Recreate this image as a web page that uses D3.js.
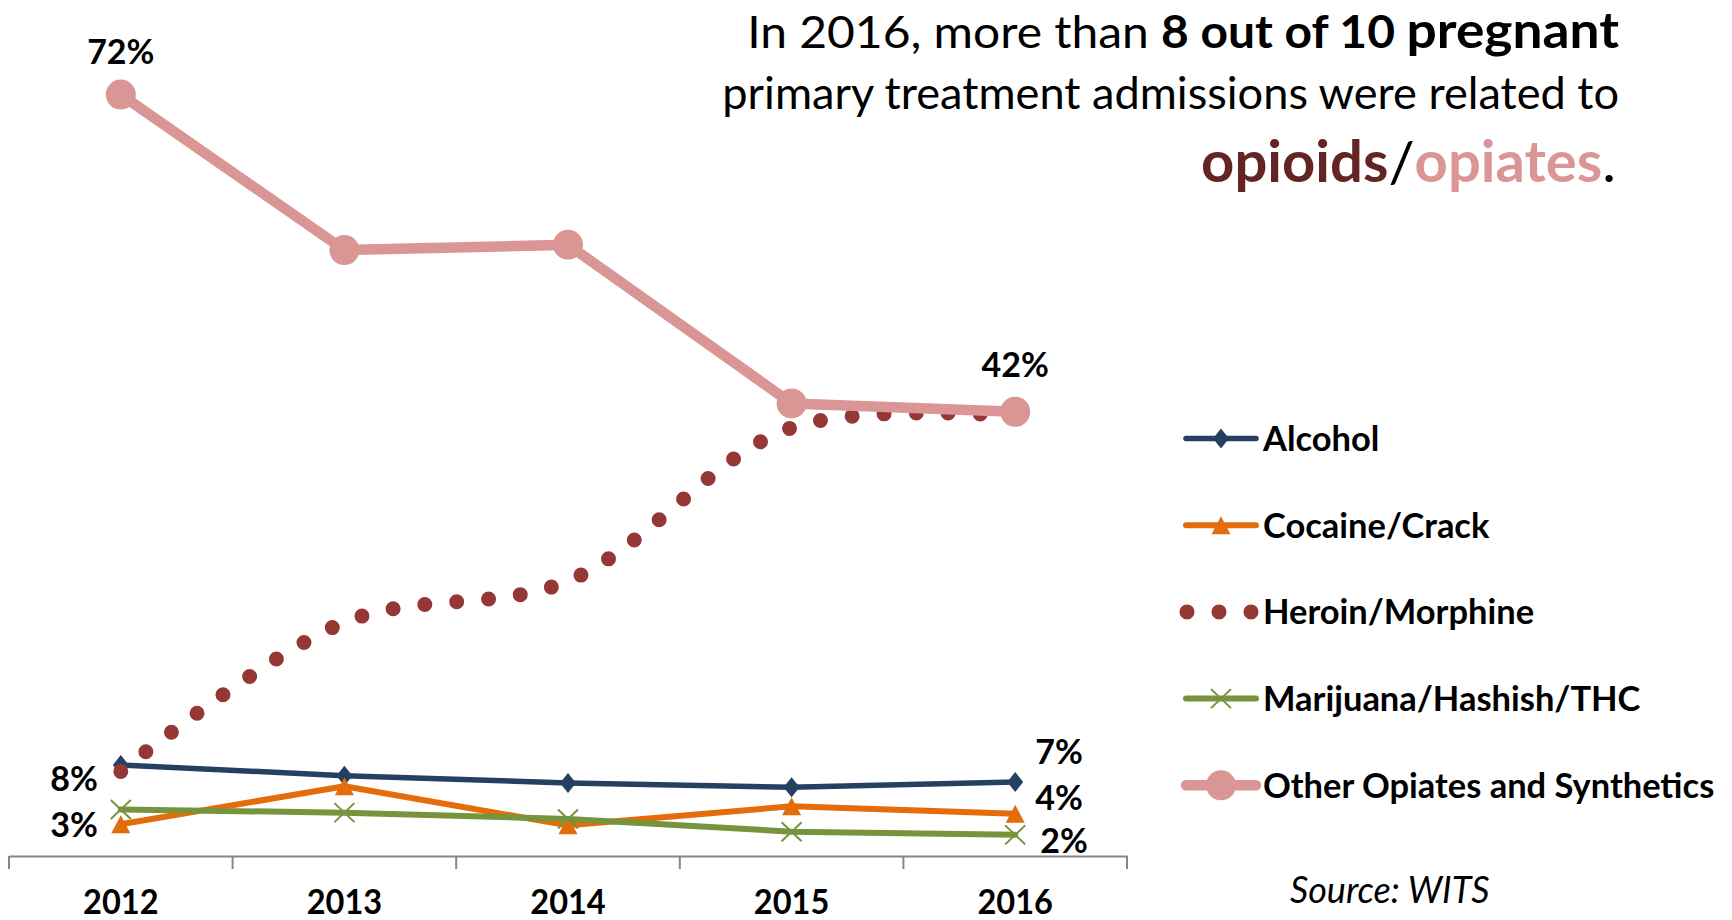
<!DOCTYPE html>
<html>
<head>
<meta charset="utf-8">
<script src="https://cdn.jsdelivr.net/npm/d3@7"></script>
<style>
  html, body { margin: 0; padding: 0; background: #fff; }
  svg { display: block; font-family: Lato, "Open Sans", sans-serif; }
</style>
</head>
<body>
<svg id="chart" width="1732" height="920"></svg>
<script>
// ---- data: share of pregnant primary treatment admissions (%) ----
const years = ["2012", "2013", "2014", "2015", "2016"];
const alcohol = [8.6, 7.6, 6.9, 6.5, 7];
const cocaine = [3, 6.6, 2.9, 4.7, 4];
const heroin = [8, 22.1, 26.0, 40.5, 41.6];
const marijuana = [4.4, 4.1, 3.5, 2.3, 2];
const otherOpiates = [72, 57.3, 57.8, 42.8, 42];

const seriesNames = ["Alcohol", "Cocaine/Crack", "Heroin/Morphine",
                     "Marijuana/Hashish/THC", "Other Opiates and Synthetics"];
const seriesValues = [alcohol, cocaine, heroin, marijuana, otherOpiates];

// styling per series
const styles = [
  { color: "#254061", width: 5.5, marker: "diamond" },
  { color: "#E46C0A", width: 6, marker: "triangle" },
  { color: "#953735", width: 15, marker: null, dotted: true, smooth: true },
  { color: "#77933C", width: 6, marker: "x" },
  { color: "#D99694", width: 10.5, marker: "circle" }
];

// value labels: which series / point, with offset from the point
const valueLabels = [
  { s: 4, i: 0, dx: 0,   dy: -31, anchor: "middle" },
  { s: 4, i: 4, dx: 0,   dy: -35, anchor: "middle" },
  { s: 2, i: 0, dx: -23, dy: 20,  anchor: "end" },
  { s: 1, i: 0, dx: -23, dy: 13,  anchor: "end" },
  { s: 0, i: 4, dx: 20,  dy: -18, anchor: "start" },
  { s: 1, i: 4, dx: 20,  dy: -4,  anchor: "start" },
  { s: 3, i: 4, dx: 25,  dy: 18,  anchor: "start" }
];

const svg = d3.select("#chart");

function squeeze(sel, sx, ax) {
  sel.attr("transform", `translate(${ax},0) scale(${sx},1) translate(${-ax},0)`);
}

// ---- scales ----
const x = d3.scaleBand().domain(years).range([9, 1127]).padding(0);
const cx = d => x(d) + x.bandwidth() / 2;
const y = d3.scaleLinear().domain([0, 80]).range([856, 10]);

// ---- x axis ----
const axis = svg.append("g").attr("transform", `translate(0,${y(0)})`)
  .call(d3.axisBottom(x).tickSize(0).tickSizeOuter(0));
axis.select(".domain").attr("stroke", "#868686").attr("stroke-width", 2);
axis.selectAll(".tick text")
  .attr("y", 58).attr("dy", 0)
  .attr("fill", "#000")
  .style("font-family", "Lato, sans-serif")
  .style("font-size", "35px").style("font-weight", "bold")
  .each(function () { squeeze(d3.select(this), 0.93, 0); });

// tick marks sit on the category boundaries
const bounds = years.map(d => x(d)).concat([x.range()[1]]);
svg.append("g").selectAll("line").data(bounds).join("line")
  .attr("x1", d => d).attr("x2", d => d)
  .attr("y1", y(0)).attr("y2", y(0) + 13)
  .attr("stroke", "#868686").attr("stroke-width", 2);

// ---- markers ----
function drawMarker(g, type, px, py, color) {
  if (type === "diamond") {
    g.append("path")
      .attr("d", `M${px},${py - 10}L${px + 8},${py}L${px},${py + 10}L${px - 8},${py}Z`)
      .attr("fill", color);
  } else if (type === "triangle") {
    g.append("path")
      .attr("d", `M${px},${py - 9}L${px + 9.5},${py + 9}L${px - 9.5},${py + 9}Z`)
      .attr("fill", color);
  } else if (type === "x") {
    g.append("path")
      .attr("d", `M${px - 10},${py - 9.5}L${px + 10},${py + 9.5}M${px + 10},${py - 9.5}L${px - 10},${py + 9.5}`)
      .attr("stroke", color).attr("stroke-width", 2).attr("fill", "none");
  } else if (type === "circle") {
    g.append("circle").attr("cx", px).attr("cy", py).attr("r", 15).attr("fill", color);
  }
}

// ---- series ----
seriesValues.forEach((vals, s) => {
  const st = styles[s];
  const g = svg.append("g").attr("class", "series");
  const line = d3.line()
    .x((d, i) => cx(years[i]))
    .y(d => y(d))
    .curve(st.smooth ? d3.curveCatmullRom.alpha(0.5) : d3.curveLinear);
  const p = g.append("path").datum(vals)
    .attr("d", line)
    .attr("fill", "none")
    .attr("stroke", st.color)
    .attr("stroke-width", st.width)
    .attr("stroke-linejoin", "round")
    .attr("stroke-linecap", "round");
  if (st.dotted) p.attr("stroke-dasharray", "0 32");
  if (st.marker) vals.forEach((v, i) => drawMarker(g, st.marker, cx(years[i]), y(v), st.color));
});

// ---- value labels ----
const fmt = v => d3.format(".0f")(v) + "%";
valueLabels.forEach(l => {
  const v = seriesValues[l.s][l.i];
  const px = cx(years[l.i]) + l.dx;
  svg.append("text")
    .attr("x", px).attr("y", y(v) + l.dy)
    .attr("text-anchor", l.anchor)
    .style("font-size", "34px").style("font-weight", "bold")
    .attr("fill", "#000")
    .text(fmt(v));
});

// ---- legend ----
const legend = svg.append("g");
const legX0 = 1186, legX1 = 1256, legMid = 1221, legTextX = 1263;
seriesNames.forEach((name, s) => {
  const st = styles[s];
  const ly = 438.5 + s * 86.7;
  const g = legend.append("g");
  if (st.dotted) {
    g.append("line").attr("x1", 1187).attr("x2", 1252).attr("y1", ly).attr("y2", ly)
      .attr("stroke", st.color).attr("stroke-width", st.width)
      .attr("stroke-linecap", "round").attr("stroke-dasharray", "0 32");
  } else {
    g.append("line").attr("x1", legX0).attr("x2", legX1).attr("y1", ly).attr("y2", ly)
      .attr("stroke", st.color).attr("stroke-width", st.width)
      .attr("stroke-linecap", "round");
    drawMarker(g, st.marker, legMid, ly, st.color);
  }
  const t = g.append("text")
    .attr("x", legTextX).attr("y", ly + 12.5)
    .style("font-size", "35px").style("font-weight", "bold")
    .attr("fill", "#000")
    .text(name);
  squeeze(t, 0.985, legTextX);
});

// ---- source ----
svg.append("text")
  .attr("x", 1290).attr("y", 903)
  .style("font-size", "36px").style("font-style", "italic")
  .attr("fill", "#000")
  .text("Source: WITS");

// ---- headline (right aligned, fitted to its line widths) ----
const right = 1619;
const title = svg.append("g");
function fitLine(t, left, rightEdge) {
  const w = t.node().getComputedTextLength();
  squeeze(t, (rightEdge - left) / w, rightEdge);
}
const l1 = title.append("text").attr("x", right).attr("y", 48)
  .attr("text-anchor", "end").style("font-size", "45px").attr("fill", "#000");
l1.append("tspan").text("In 2016, more than ");
l1.append("tspan").style("font-weight", "bold").text("8 out of 10 ");
l1.append("tspan").style("font-weight", "bold").style("font-size", "50px").text("pregnant");
fitLine(l1, 747, right);

const l2 = title.append("text").attr("x", right).attr("y", 109)
  .attr("text-anchor", "end").style("font-size", "45px").attr("fill", "#000")
  .text("primary treatment admissions were related to");
fitLine(l2, 722, right);

const l3 = title.append("text").attr("x", 1616).attr("y", 182)
  .attr("text-anchor", "end").style("font-size", "57px").attr("fill", "#000");
l3.append("tspan").style("font-weight", "bold").attr("fill", "#632523").text("opioids");
l3.append("tspan").text("/");
l3.append("tspan").style("font-weight", "bold").attr("fill", "#D99694").text("opiates");
l3.append("tspan").text(".");
fitLine(l3, 1201, 1616);
</script>
</body>
</html>
